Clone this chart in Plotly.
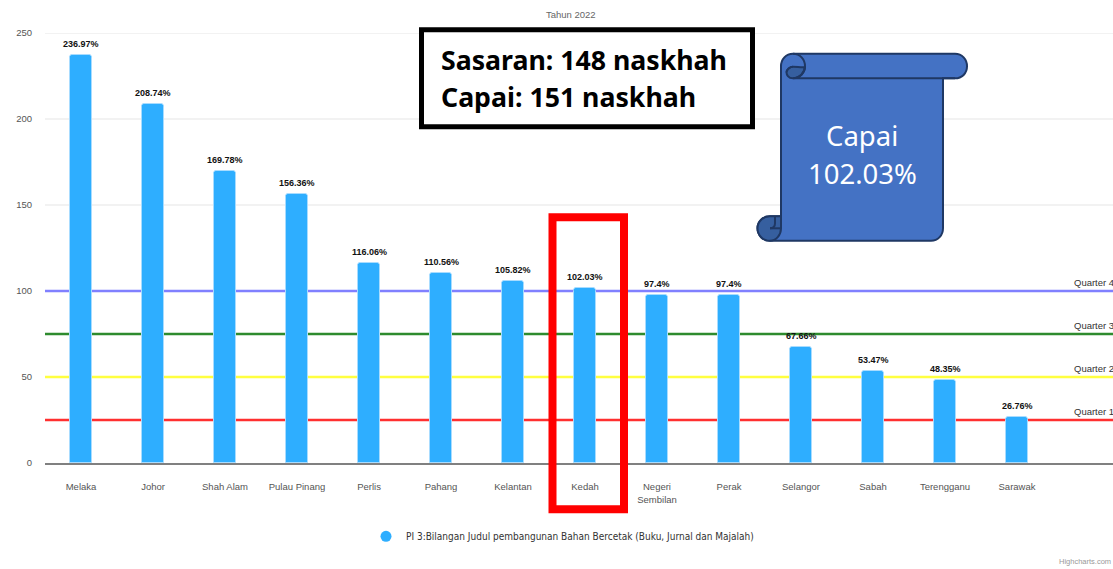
import plotly.graph_objects as go

states = ["Melaka", "Johor", "Shah Alam", "Pulau Pinang", "Perlis", "Pahang", "Kelantan", "Kedah",
          "Negeri<br>Sembilan", "Perak", "Selangor", "Sabah", "Terengganu", "Sarawak"]
values = [236.97, 208.74, 169.78, 156.36, 116.06, 110.56, 105.82, 102.03, 97.4, 97.4, 67.66, 53.47, 48.35, 26.76]
quarter_names = ["Quarter 1", "Quarter 2", "Quarter 3", "Quarter 4"]
quarter_values = [25, 50, 75, 100]
quarter_colors = ["#ff3030", "#ffff40", "#2e8b2e", "#8080ff"]
y_ticks = [0, 50, 100, 150, 200, 250]
series_name = "PI 3:Bilangan Judul pembangunan Bahan Bercetak (Buku, Jurnal dan Majalah)"

W, H = 1113, 569
L, R, T, B = 45, 1113, 32.7, 462.7
SANS = "Liberation Sans, sans-serif"


def px(x):
    return (x - L) / (R - L)


def py(y):
    return (B - y) / (B - T)


def path(cmds):
    """cmds: list of (letter, x1, y1, x2, y2, ...) in window pixels -> paper path."""
    out = []
    for c in cmds:
        pts = c[1:]
        s = [f"{px(pts[i]):.5f},{py(pts[i + 1]):.5f}" for i in range(0, len(pts), 2)]
        out.append(c[0] + " ".join(s))
    return " ".join(out)


def pshape(d, fill="rgba(0,0,0,0)", line="#1f3864", width=2):
    return dict(type="path", xref="paper", yref="paper", path=d, fillcolor=fill,
                line=dict(color=line, width=width), layer="above")


fig = go.Figure()
fig.add_bar(x=list(range(len(states))), y=values, width=0.31, showlegend=False,
            marker=dict(color="#2eaeff", cornerradius=3, line=dict(color="#a8dcff", width=1)))
fig.add_scatter(x=[None], y=[None], mode="markers", name=series_name,
                marker=dict(color="#2eaeff", size=11, symbol="circle"))

shapes = []
# gridlines first so that the quarter lines lie on top of them, both under the bars
for t in y_ticks[1:]:
    shapes.append(dict(type="line", xref="paper", yref="y", x0=0, x1=1, y0=t, y1=t,
                       line=dict(color="#f2f2f2", width=2), layer="below"))
for q, c in zip(quarter_values, quarter_colors):
    shapes.append(dict(type="line", xref="paper", yref="y", x0=0, x1=1, y0=q, y1=q,
                       line=dict(color=c, width=2.5), layer="below"))

# black text box
shapes.append(dict(type="rect", xref="paper", yref="paper", x0=px(421.5), x1=px(752.5), y0=py(29.5), y1=py(126.5),
                   fillcolor="white", line=dict(color="black", width=5), layer="above"))
# red highlight
shapes.append(dict(type="rect", xref="paper", yref="paper", x0=px(552.5), x1=px(624), y0=py(217), y1=py(509),
                   fillcolor="rgba(0,0,0,0)", line=dict(color="#ff0000", width=8), layer="above"))

# scroll body
body = path([
    ("M", 781, 66), ("C", 781, 59, 786, 53.5, 793, 53.5), ("L", 955, 53.5),
    ("C", 962, 53.5, 967, 59, 967, 66), ("C", 967, 73, 962, 78, 955, 78),
    ("L", 943, 78), ("L", 943, 228), ("C", 943, 235, 938, 240.5, 931, 240.5),
    ("L", 770, 240.5), ("C", 763, 240.5, 757.5, 235, 757.5, 228),
    ("C", 757.5, 221, 763, 216, 770, 216), ("L", 781, 216), ("Z",),
])
shapes.append(pshape(body, fill="#4472c4"))
# top curl
shapes.append(pshape(path([
    ("M", 793, 78), ("C", 788, 78, 786.5, 74, 786.5, 72), ("C", 786.5, 69, 790, 66.5, 793, 66.5),
    ("C", 798, 66.5, 805, 68, 805, 66), ("C", 805, 72, 800, 78, 793, 78), ("Z",),
]), fill="#365f9f"))
shapes.append(pshape(path([
    ("M", 793, 53.5), ("C", 800, 53.5, 805, 59, 805, 66), ("C", 805, 72, 800, 78, 793, 78),
    ("L", 955, 78),
])))
shapes.append(pshape(path([("M", 793, 66.5), ("C", 790, 66.5, 786.5, 69, 786.5, 72)])))
# bottom curl
shapes.append(pshape(path([
    ("M", 770, 240.5), ("C", 763, 240.5, 757.5, 235, 757.5, 228), ("C", 757.5, 221, 763, 216, 770, 216),
    ("L", 781, 216), ("L", 781, 228), ("C", 781, 235, 776, 240.5, 770, 240.5), ("Z",),
]), fill="#365f9f"))
shapes.append(pshape(path([("M", 770, 228), ("L", 781, 228)])))
shapes.append(pshape(path([("M", 770, 228), ("C", 773, 228, 775, 226, 775, 223), ("L", 775, 216)])))

ann = []
for i, v in enumerate(values):
    ann.append(dict(x=i, y=v, xref="x", yref="y", text=f"{v}%", showarrow=False, yanchor="bottom", yshift=4,
                    font=dict(family=SANS, size=9, color="#111111", weight="bold")))
for n, q in zip(quarter_names, quarter_values):
    ann.append(dict(x=px(1072), y=q, xref="paper", yref="y", text=n, showarrow=False, xanchor="left",
                    yanchor="bottom", yshift=1, font=dict(family=SANS, size=9.5, color="#333333")))


def txt(x, y, t, size, color, family, anchor="center", weight="normal"):
    ann.append(dict(x=px(x), y=py(y), xref="paper", yref="paper", text=t, showarrow=False, xanchor=anchor,
                    yanchor="middle", font=dict(family=family, size=size, color=color, weight=weight)))


txt(571, 14, "Tahun 2022", 9.5, "#666666", SANS)
txt(1113, 561, "Highcharts.com", 7.5, "#999999", SANS, anchor="right")
txt(439, 59, "Sasaran: 148 naskhah", 26.7, "#000000", "Noto Sans, sans-serif", anchor="left", weight="bold")
txt(439, 96, "Capai: 151 naskhah", 26.7, "#000000", "Noto Sans, sans-serif", anchor="left", weight="bold")
txt(862, 135.5, "Capai", 27.5, "white", "Noto Sans, sans-serif")
txt(862, 173, "102.03%", 27.5, "white", "Noto Sans, sans-serif")

fig.update_layout(
    width=W, height=H, autosize=False, plot_bgcolor="white", paper_bgcolor="white",
    margin=dict(l=L, r=W - R, t=T, b=H - B, pad=0),
    shapes=shapes, annotations=ann, bargap=0,
    legend=dict(orientation="h", x=px(366), y=py(536), xanchor="left", yanchor="middle",
                font=dict(family="DejaVu Sans Condensed, DejaVu Sans", size=10, color="#333333"),
                bgcolor="rgba(0,0,0,0)"),
    xaxis=dict(range=[-0.5, (R - L) / 72 - 0.5], tickmode="array", tickvals=list(range(len(states))),
               ticktext=states, tickangle=0, ticks="", showgrid=False, zeroline=False, showline=True,
               linecolor="#808080", linewidth=2, ticklabelstandoff=14,
               tickfont=dict(family=SANS, size=9.5, color="#555555")),
    yaxis=dict(range=[0, 250], tickmode="array", tickvals=y_ticks, showgrid=False,
               zeroline=False, showline=False, ticks="", ticklabelstandoff=12,
               tickfont=dict(family=SANS, size=9.5, color="#555555")),
)

fig.write_html("out.html", config=dict(displayModeBar=False),
               post_script="document.body.style.margin='0';document.body.style.overflow='hidden';")
